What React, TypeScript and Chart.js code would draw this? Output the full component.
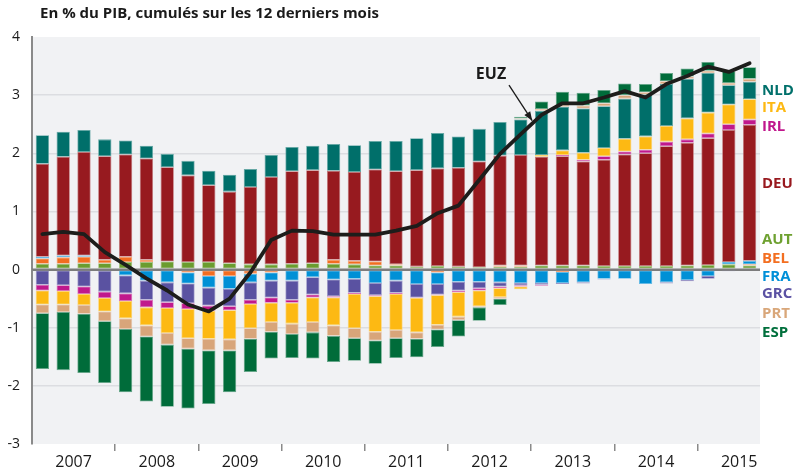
import React, { useEffect, useRef } from 'react';
import { Chart, registerables } from 'chart.js';

Chart.register(...registerables);

const years = ['2007', '2008', '2009', '2010', '2011', '2012', '2013', '2014', '2015'];
const quarters: string[] = [];
years.forEach((y) => ['T1', 'T2', 'T3', 'T4'].forEach((q) => quarters.push(y + q)));
quarters.splice(35);

const yTicks = [4, 3, 2, 1, 0, -1, -2, -3];

const AUT = [0.10, 0.10, 0.11, 0.11, 0.13, 0.13, 0.14, 0.13, 0.13, 0.11, 0.09, 0.09, 0.10, 0.11, 0.10, 0.09, 0.07, 0.07, 0.05, 0.06, 0.05, 0.04, 0.05, 0.05, 0.07, 0.07, 0.07, 0.06, 0.06, 0.06, 0.06, 0.07, 0.08, 0.09, 0.07];
const BEL = [0.09, 0.11, 0.11, 0.06, 0.09, 0.04, 0, -0.05, -0.11, -0.11, -0.07, -0.05, 0, 0, 0.07, 0.06, 0.07, 0.02, 0, -0.05, 0, 0, 0.02, 0.02, 0, -0.04, 0, 0, 0, 0, 0, 0, 0, 0, 0.02];
const FRA = [0.03, 0.03, 0.02, -0.02, -0.10, -0.19, -0.22, -0.19, -0.20, -0.22, -0.15, -0.14, -0.19, -0.13, -0.17, -0.16, -0.23, -0.19, -0.25, -0.20, -0.21, -0.21, -0.22, -0.23, -0.23, -0.19, -0.22, -0.16, -0.16, -0.25, -0.22, -0.18, -0.11, 0.04, 0.06];
const DEU = [1.60, 1.70, 1.78, 1.78, 1.76, 1.74, 1.62, 1.49, 1.32, 1.23, 1.33, 1.50, 1.59, 1.60, 1.53, 1.53, 1.58, 1.60, 1.66, 1.68, 1.70, 1.82, 1.89, 1.90, 1.87, 1.88, 1.79, 1.83, 1.92, 1.94, 2.06, 2.11, 2.18, 2.27, 2.34];
const GRC = [-0.26, -0.27, -0.29, -0.36, -0.31, -0.33, -0.34, -0.34, -0.31, -0.30, -0.30, -0.29, -0.33, -0.30, -0.29, -0.24, -0.21, -0.21, -0.23, -0.18, -0.15, -0.11, -0.07, -0.04, -0.03, -0.02, -0.02, -0.01, 0, 0, -0.02, -0.02, -0.05, -0.03, 0];
const IRL = [-0.10, -0.10, -0.13, -0.11, -0.13, -0.13, -0.10, -0.10, -0.09, -0.07, -0.07, -0.09, -0.05, -0.05, -0.02, -0.02, -0.02, -0.02, -0.01, -0.01, -0.03, -0.04, -0.03, -0.02, -0.02, 0.02, 0.03, 0.06, 0.05, 0.06, 0.08, 0.06, 0.08, 0.10, 0.09];
const ITA = [-0.24, -0.23, -0.19, -0.23, -0.30, -0.31, -0.43, -0.50, -0.48, -0.50, -0.42, -0.33, -0.36, -0.42, -0.48, -0.59, -0.61, -0.62, -0.59, -0.51, -0.42, -0.27, -0.15, -0.05, 0.03, 0.08, 0.12, 0.14, 0.22, 0.23, 0.27, 0.36, 0.36, 0.34, 0.35];
const NLD = [0.49, 0.43, 0.38, 0.29, 0.24, 0.22, 0.23, 0.25, 0.25, 0.29, 0.31, 0.38, 0.42, 0.42, 0.46, 0.46, 0.49, 0.52, 0.55, 0.61, 0.54, 0.56, 0.58, 0.61, 0.76, 0.75, 0.76, 0.72, 0.69, 0.72, 0.72, 0.68, 0.68, 0.33, 0.30];
const PRT = [-0.15, -0.13, -0.15, -0.17, -0.18, -0.19, -0.20, -0.18, -0.20, -0.19, -0.18, -0.17, -0.18, -0.18, -0.18, -0.17, -0.15, -0.14, -0.11, -0.08, -0.06, -0.02, -0.03, 0.02, 0.03, 0.03, 0.05, 0.05, 0.06, 0.04, 0.05, 0.04, 0.04, 0.04, 0.05];
const ESP = [-0.96, -1.00, -1.02, -1.06, -1.09, -1.12, -1.07, -1.03, -0.92, -0.72, -0.57, -0.46, -0.41, -0.45, -0.45, -0.39, -0.40, -0.34, -0.32, -0.30, -0.28, -0.23, -0.11, 0.03, 0.13, 0.23, 0.22, 0.23, 0.20, 0.14, 0.14, 0.14, 0.15, 0.20, 0.20];
const EUZ = [0.61, 0.65, 0.61, 0.30, 0.08, -0.15, -0.36, -0.60, -0.72, -0.50, -0.05, 0.51, 0.67, 0.66, 0.60, 0.60, 0.60, 0.67, 0.75, 0.97, 1.10, 1.54, 1.99, 2.33, 2.66, 2.86, 2.86, 2.96, 3.07, 2.96, 3.19, 3.33, 3.49, 3.40, 3.55];

const series = [
  { name: 'AUT', data: AUT, color: '#6a9c2f' },
  { name: 'BEL', data: BEL, color: '#f26d21' },
  { name: 'FRA', data: FRA, color: '#0090d6' },
  { name: 'DEU', data: DEU, color: '#971a1f' },
  { name: 'GRC', data: GRC, color: '#5a52a1' },
  { name: 'IRL', data: IRL, color: '#c0188c' },
  { name: 'ITA', data: ITA, color: '#fdb913' },
  { name: 'NLD', data: NLD, color: '#006f6a' },
  { name: 'PRT', data: PRT, color: '#d8a57a' },
  { name: 'ESP', data: ESP, color: '#006c3a' },
];

// right-hand labels: name, colour, vertical position in axis units
const sideLabels: [string, string, number][] = [
  ['NLD', '#00706b', 3.07],
  ['ITA', '#fdb913', 2.78],
  ['IRL', '#c0168c', 2.45],
  ['DEU', '#98191f', 1.47],
  ['AUT', '#6ea130', 0.51],
  ['BEL', '#f36f21', 0.18],
  ['FRA', '#0090d8', -0.13],
  ['GRC', '#5b52a3', -0.42],
  ['PRT', '#d9a77a', -0.76],
  ['ESP', '#006f3c', -1.09],
];

const TITLE = 'En % du PIB, cumulés sur les 12 derniers mois';
const FONT = "'Open Sans', 'DejaVu Sans', sans-serif";

function tint(hex: string, f: number) {
  const n = parseInt(hex.slice(1), 16);
  const r = (n >> 16) & 255, g = (n >> 8) & 255, b = n & 255;
  const m = (c: number) => Math.round(c + (255 - c) * f);
  return `rgb(${m(r)},${m(g)},${m(b)})`;
}

const decorPlugin = {
  id: 'decor',
  beforeDraw(chart: any) {
    const { ctx, chartArea: a } = chart;
    ctx.save();
    ctx.fillStyle = '#f1f2f4';
    ctx.fillRect(a.left, a.top, a.right - a.left, a.bottom - a.top);
    ctx.restore();
  },
  beforeDatasetDraw(chart: any, args: any) {
    if (args.meta.type !== 'line') return;
    const { ctx, chartArea: a, scales } = chart;
    const y0 = scales.y.getPixelForValue(0);
    ctx.save();
    ctx.strokeStyle = '#7d7d7d';
    ctx.lineWidth = 2;
    ctx.beginPath();
    ctx.moveTo(a.left, y0);
    ctx.lineTo(a.right, y0);
    ctx.stroke();
    ctx.restore();
  },
  afterDraw(chart: any) {
    const { ctx, chartArea: a, scales } = chart;
    ctx.save();
    // title
    ctx.fillStyle = '#1a1a1a';
    ctx.font = `bold 15px ${FONT}`;
    ctx.textBaseline = 'middle';
    ctx.textAlign = 'left';
    ctx.fillText(TITLE, a.left + 8, 14);
    // side labels
    ctx.font = `bold 15px ${FONT}`;
    sideLabels.forEach(([t, c, v]) => {
      ctx.fillStyle = c;
      ctx.fillText(t, a.right + 2, scales.y.getPixelForValue(v));
    });
    // EUZ annotation
    const xs = scales.x;
    const bw = (a.right - a.left) / quarters.length;
    const tx = xs.getPixelForValue(22) - 9;
    const ty = scales.y.getPixelForValue(3.36);
    ctx.fillStyle = '#1a1a1a';
    ctx.font = `bold 16px ${FONT}`;
    ctx.textAlign = 'center';
    ctx.fillText('EUZ', tx, ty);
    const x1 = tx + 18, y1 = ty + 11;
    const x2 = xs.getPixelForValue(24) - bw * 0.5 + 1, y2 = scales.y.getPixelForValue(2.56);
    ctx.strokeStyle = '#1a1a1a';
    ctx.lineWidth = 1.3;
    ctx.beginPath();
    ctx.moveTo(x1, y1);
    ctx.lineTo(x2, y2);
    ctx.stroke();
    const ang = Math.atan2(y2 - y1, x2 - x1);
    const L = 9, W = 3.5;
    ctx.beginPath();
    ctx.moveTo(x2, y2);
    ctx.lineTo(x2 - L * Math.cos(ang) + W * Math.sin(ang), y2 - L * Math.sin(ang) - W * Math.cos(ang));
    ctx.lineTo(x2 - L * Math.cos(ang) - W * Math.sin(ang), y2 - L * Math.sin(ang) + W * Math.cos(ang));
    ctx.closePath();
    ctx.fill();
    ctx.restore();
  },
};

export default function App() {
  const ref = useRef<HTMLCanvasElement>(null);
  useEffect(() => {
    document.body.style.margin = '0';
    const datasets: any[] = series.map((s) => ({
      type: 'bar',
      label: s.name,
      data: s.data,
      backgroundColor: s.color,
      borderColor: tint(s.color, 0.4),
      borderWidth: 0.8,
      borderSkipped: false,
      stack: 'pays',
      order: 1,
      categoryPercentage: 1,
      barPercentage: 0.64,
    }));
    datasets.push({
      type: 'line',
      label: 'EUZ',
      data: EUZ,
      borderColor: '#1d1d1b',
      borderWidth: 3.8,
      pointRadius: 0,
      tension: 0,
      borderJoinStyle: 'round',
      borderCapStyle: 'round',
      stack: 'euz',
      order: 0,
      fill: false,
    });
    const chart = new Chart(ref.current!, {
      type: 'bar',
      data: { labels: quarters, datasets },
      plugins: [decorPlugin],
      options: {
        responsive: false,
        animation: false,
        devicePixelRatio: 1,
        layout: { padding: { top: 37, right: 33, left: 0, bottom: 0 } },
        plugins: { legend: { display: false }, tooltip: { enabled: false }, title: { display: false } },
        scales: {
          x: {
            type: 'category',
            stacked: true,
            offset: true,
            border: { display: false },
            grid: {
              offset: true,
              drawOnChartArea: false,
              drawTicks: true,
              tickLength: 7,
              lineWidth: 1.5,
              color: (c: any) => (c.index > 0 && c.index % 4 === 0 && c.index < quarters.length ? '#8a8a8a' : 'rgba(0,0,0,0)'),
            },
            ticks: {
              autoSkip: false,
              maxRotation: 0,
              minRotation: 0,
              padding: 2,
              labelOffset: 10.4,
              color: '#1a1a1a',
              font: { family: FONT, size: 16 },
              callback: (_v: any, i: number) => (i % 4 === 1 ? quarters[i].slice(0, 4) : ''),
            },
            afterFit: (s: any) => { s.height = 30; },
          },
          y: {
            stacked: true,
            min: -3,
            max: 4,
            afterBuildTicks: (s: any) => { s.ticks = yTicks.map((v) => ({ value: v })); },
            border: { display: true, color: '#8a8a8a', width: 2 },
            grid: {
              drawTicks: false,
              lineWidth: (c: any) => (c.tick && c.tick.value === 0 ? 2 : 1.5),
              color: (c: any) => {
                const v = c.tick ? c.tick.value : null;
                if (v === 0) return '#7d7d7d';
                if (v === 4 || v === -3) return 'rgba(0,0,0,0)';
                return '#dcdde1';
              },
            },
            ticks: {
              padding: 12,
              color: '#1a1a1a',
              font: { family: FONT, size: 14 },
              callback: (v: any) => String(v),
            },
            afterFit: (s: any) => { s.width = 32; },
          },
        },
      },
    });
    return () => chart.destroy();
  }, []);
  return (
    <div style={{ width: 793, height: 474 }}>
      <canvas ref={ref} width={793} height={474} style={{ display: 'block' }} />
    </div>
  );
}
